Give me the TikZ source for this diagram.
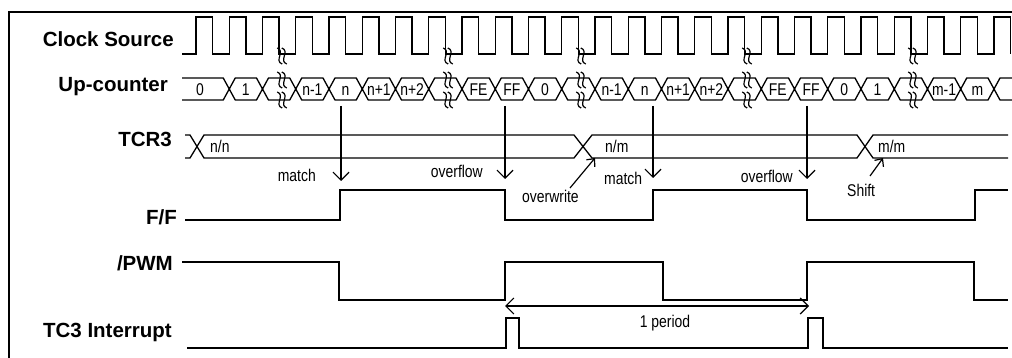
\documentclass[tikz,border=0pt]{standalone}
\usepackage{fontspec}
\setmainfont{Liberation Sans}
\newfontfamily\lblfont[FakeStretch=0.82]{Liberation Sans}
\usetikzlibrary{arrows.meta}
\newcommand\mysquig[2]{%
  \foreach \d in {-2.3,2.3}{\draw[squig] ({#1+\d-2.5},{#2-8}) .. controls ({#1+\d+6},{#2-5}) and ({#1+\d-6},{#2+5}) .. ({#1+\d+2.5},{#2+8});}}
\begin{document}
\begin{tikzpicture}[x=1pt,y=-1pt,
  sig/.style={line width=1.3pt, line join=miter},
  biglbl/.style={font=\bfseries\fontsize{20.5}{24}\selectfont, inner sep=0pt, anchor=base east},
  smalllbl/.style={font=\lblfont\fontsize{17}{20}\selectfont, inner sep=0pt},
  cntlbl/.style={font=\lblfont\fontsize{17}{20}\selectfont, inner sep=0pt, anchor=base},
  evarrow/.style={line width=1.2pt, -{Straight Barb[length=8pt,width=16pt,line width=1.2pt]}},
  smallarrow/.style={line width=1.2pt, -{Straight Barb[length=6pt,width=11pt,line width=1.2pt]}},
  squig/.style={line width=1.2pt}]
\useasboundingbox (0,0) rectangle (1012,358);
% frame
\draw[line width=1.3pt] (9,360) -- (9,12) -- (1014,12);
% labels
\node[biglbl] (lclk) at (174,47) {Clock Source};
\node[biglbl] (lcnt) at (168,92) {Up-counter};
\node[biglbl] (ltcr) at (172,147) {TCR3};
\node[biglbl] (lff) at (177,225) {F/F};
\node[biglbl] (lpwm) at (173,270) {/PWM};
\node[biglbl] (lint) at (172,337) {TC3 Interrupt};
% clock
\draw[sig] (182,54) foreach \k in {0,...,24}{ -- ({196+33.25*\k},54) -- ({196+33.25*\k},17) -- ({212.6+33.25*\k},17) -- ({212.6+33.25*\k},54)};
% counter
\draw[sig] (182,78) foreach \k in {1,...,24}{ -- ({196+33.25*\k-6},78) -- ({196+33.25*\k},89) -- ({196+33.25*\k+6},78)} -- (1012,78);
\draw[sig] (182,100) foreach \k in {1,...,24}{ -- ({196+33.25*\k-6},100) -- ({196+33.25*\k},89) -- ({196+33.25*\k+6},100)} -- (1012,100);
\node[cntlbl] (c0) at (200,96) {0};
\foreach \s/\t in {1/1,3/n-1,4/n,5/n+1,6/n+2,8/FE,9/FF,10/0,12/n-1,13/n,14/n+1,15/n+2,17/FE,18/FF,19/0,20/1,22/m-1,23/m}
  \node[cntlbl] (c\s) at ({212.6+33.25*\s},96) {\t};
% breaks
\foreach \bx in {282,448,581,747,913}{
  \mysquig{\bx}{56}
  \mysquig{\bx}{80}
  \mysquig{\bx}{100}
}
% TCR3 bus
\draw[sig] (185,135) -- (190,135) -- (204,158) -- (574,158) -- (592,135) -- (857,135) -- (873,158) -- (1008,158);
\draw[sig] (185,158) -- (190,158) -- (204,135) -- (574,135) -- (592,158) -- (857,158) -- (873,135) -- (1008,135);
\node[smalllbl, anchor=base west] (tnn) at (210,153) {n/n};
\node[smalllbl, anchor=base west] (tnm) at (605,153) {n/m};
\node[smalllbl, anchor=base west] (tmm) at (878,153) {m/m};
% event arrows
\coordinate (a1s) at (341,106); \coordinate (a1e) at (341,181);
\coordinate (a2s) at (505,106); \coordinate (a2e) at (505,179);
\coordinate (a3s) at (653,106); \coordinate (a3e) at (653,178);
\coordinate (a4s) at (807,106); \coordinate (a4e) at (807,179);
\draw[evarrow] (a1s) -- (a1e);
\draw[evarrow] (a2s) -- (a2e);
\draw[evarrow] (a3s) -- (a3e);
\draw[evarrow] (a4s) -- (a4e);
\node[smalllbl, anchor=base east] (lm1) at (316,182) {match};
\node[smalllbl, anchor=base east] (lo1) at (483,178) {overflow};
\node[smalllbl, anchor=base west] (low) at (522,203) {overwrite};
\node[smalllbl, anchor=base west] (lm2) at (604,185) {match};
\node[smalllbl, anchor=base east] (lo2) at (793,183) {overflow};
\node[smalllbl, anchor=base west] (lsh) at (847,197) {Shift};
\coordinate (ows) at (570,188); \coordinate (owe) at (595,158);
\coordinate (shs) at (870,176); \coordinate (she) at (883,158);
\draw[smallarrow] (ows) -- (owe);
\draw[smallarrow] (shs) -- (she);
% F/F
\draw[sig] (185,220) -- (340,220) -- (340,190) -- (505,190) -- (505,220) -- (653,220) -- (653,190) -- (807,190) -- (807,220) -- (975,220) -- (975,190) -- (1008,190);
% /PWM
\draw[sig] (182,262) -- (339,262) -- (339,300) -- (505,300) -- (505,262) -- (663,262) -- (663,300) -- (807,300) -- (807,262) -- (974,262) -- (974,300) -- (1008,300);
% TC3 interrupt
\draw[sig] (187,348) -- (506,348) -- (506,318) -- (519,318) -- (519,348) -- (808,348) -- (808,318) -- (823,318) -- (823,348) -- (1008,348);
% period
\coordinate (ps) at (505,306); \coordinate (pe) at (809,306);
\draw[line width=1.2pt, {Straight Barb[length=8pt,width=16pt,line width=1.2pt]}-{Straight Barb[length=8pt,width=16pt,line width=1.2pt]}] (ps) -- (pe);
\node[smalllbl, anchor=base] (lper) at (665,327) {1 period};
\end{tikzpicture}
\end{document}
